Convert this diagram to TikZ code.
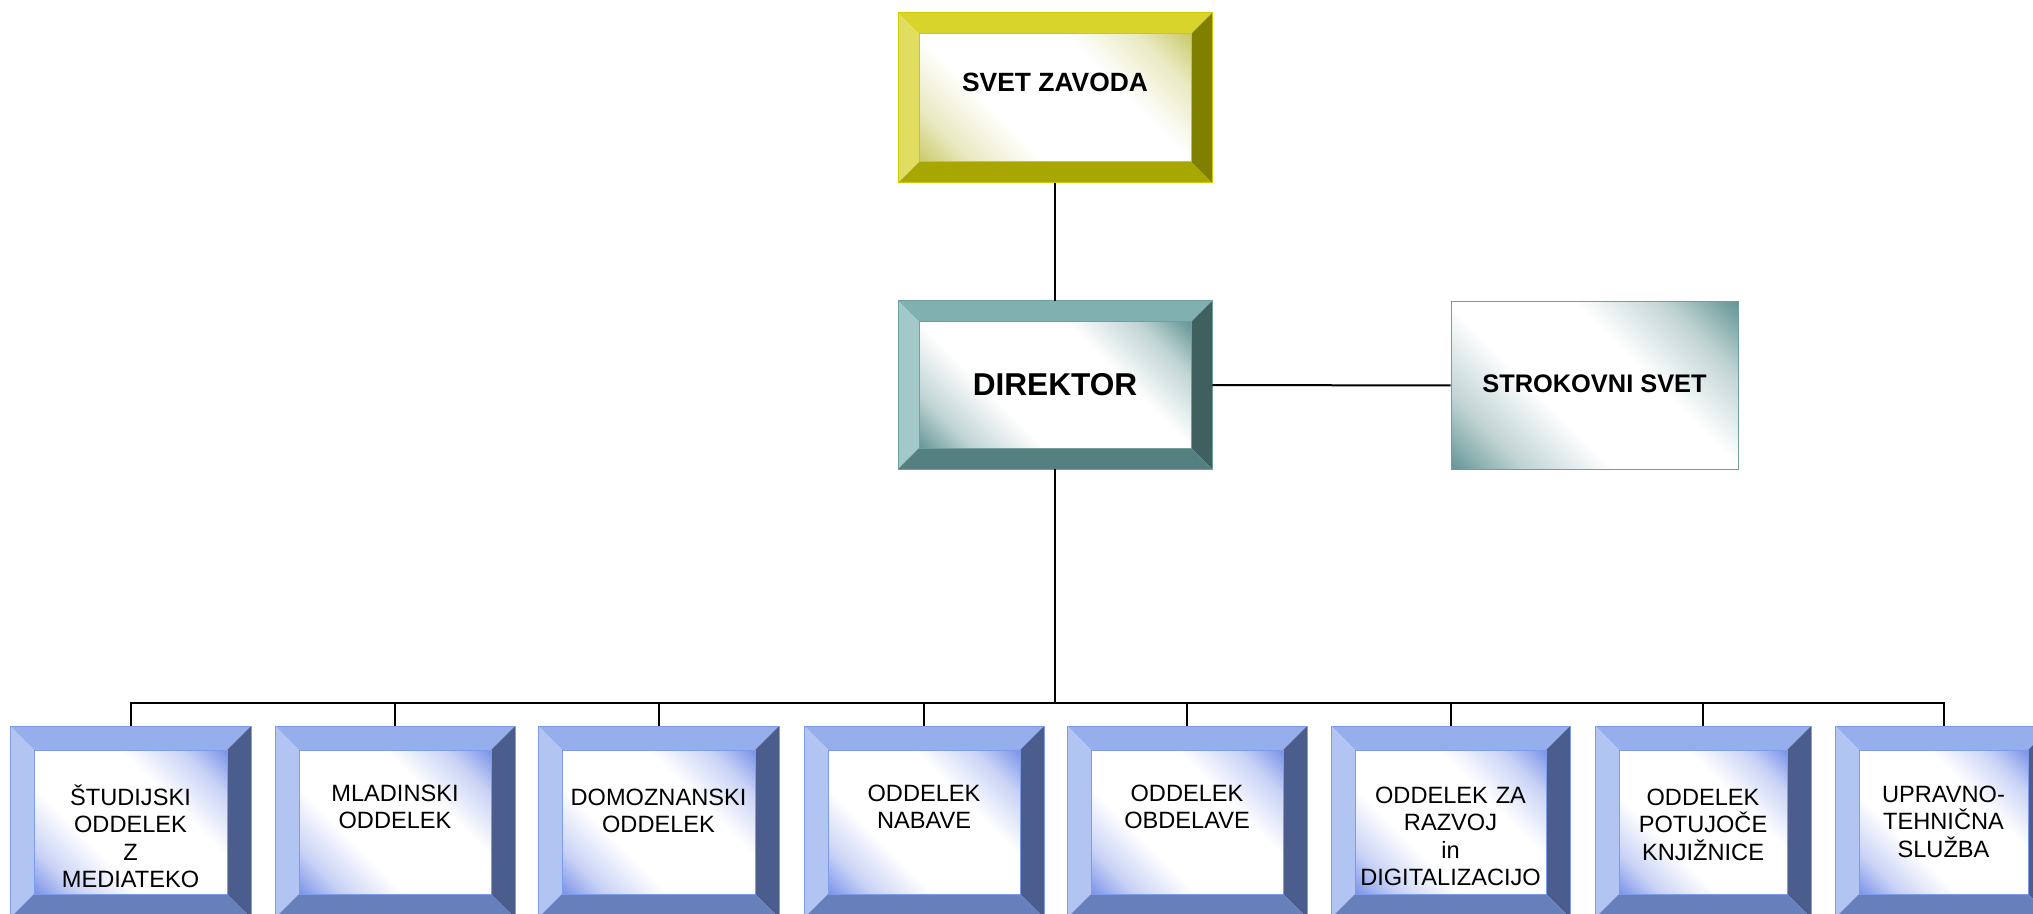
\documentclass[tikz,border=0pt]{standalone}
\usepackage{fontspec}
\setmainfont{Liberation Sans}
\usetikzlibrary{fit}

% yellow set
\definecolor{ytop}{RGB}{216,212,44}
\definecolor{yleft}{RGB}{224,221,96}
\definecolor{yright}{RGB}{128,128,0}
\definecolor{ybot}{RGB}{168,166,0}
\definecolor{yline}{RGB}{204,204,0}
\definecolor{ycorner}{RGB}{200,200,100}
\colorlet{ymid}{ycorner!40!white}
% teal set
\definecolor{ttop}{RGB}{128,176,176}
\definecolor{tleft}{RGB}{163,200,200}
\definecolor{tright}{RGB}{64,96,96}
\definecolor{tbot}{RGB}{84,128,128}
\definecolor{tline}{RGB}{110,160,160}
\definecolor{tcorner}{RGB}{96,146,146}
\colorlet{tmid}{tcorner!40!white}
% blue set
\definecolor{btop}{RGB}{150,174,235}
\definecolor{bleft}{RGB}{178,197,242}
\definecolor{bright}{RGB}{75,93,140}
\definecolor{bbot}{RGB}{102,128,188}
\definecolor{bline}{RGB}{125,155,232}
\definecolor{bcorner}{RGB}{118,143,232}
\colorlet{bmid}{bcorner!40!white}

\pgfdeclarehorizontalshading{ydiag}{100bp}{color(0bp)=(ycorner); color(14bp)=(ycorner); color(24bp)=(ymid); color(37bp)=(white); color(63bp)=(white); color(76bp)=(ymid); color(86bp)=(ycorner); color(100bp)=(ycorner)}
\pgfdeclarehorizontalshading{tdiag}{100bp}{color(0bp)=(tcorner); color(14bp)=(tcorner); color(24bp)=(tmid); color(37bp)=(white); color(63bp)=(white); color(76bp)=(tmid); color(86bp)=(tcorner); color(100bp)=(tcorner)}
\pgfdeclarehorizontalshading{sdiag}{100bp}{color(0bp)=(tcorner); color(14bp)=(tcorner); color(26bp)=(tmid); color(40bp)=(white); color(60bp)=(white); color(74bp)=(tmid); color(86bp)=(tcorner); color(100bp)=(tcorner)}
\pgfdeclarehorizontalshading{bdiag}{100bp}{color(0bp)=(bcorner); color(14bp)=(bcorner); color(24bp)=(bmid); color(37bp)=(white); color(63bp)=(white); color(76bp)=(bmid); color(86bp)=(bcorner); color(100bp)=(bcorner)}

% #1 name, #2 x1, #3 y1, #4 x2, #5 y2, #6 bevel, #7 colour prefix
\newcommand{\bevbox}[7]{%
  \fill[#7top] (#2,#3) -- (#4,#3) -- ({#4-#6},{#3+#6}) -- ({#2+#6},{#3+#6}) -- cycle;
  \fill[#7left] (#2,#3) -- ({#2+#6},{#3+#6}) -- ({#2+#6},{#5-#6}) -- (#2,#5) -- cycle;
  \fill[#7right] (#4,#3) -- (#4,#5) -- ({#4-#6},{#5-#6}) -- ({#4-#6},{#3+#6}) -- cycle;
  \fill[#7bot] (#2,#5) -- (#4,#5) -- ({#4-#6},{#5-#6}) -- ({#2+#6},{#5-#6}) -- cycle;
  \shade[shading=#7diag, shading angle=45] ({#2+#6},{#3+#6}) rectangle ({#4-#6},{#5-#6});
  \draw[#7line, line width=0.5pt] ({#2+#6},{#3+#6}) rectangle ({#4-#6},{#5-#6});
  \draw[#7line, line width=0.5pt] (#2,#3) rectangle (#4,#5);
  \node[fit={(#2,#3)(#4,#5)}, inner sep=0pt] (#1) {};
}

\tikzset{
  conn/.style={line width=1pt, black},
  toptxt/.style={inner sep=0pt, font=\bfseries\fontsize{13.2pt}{15pt}\selectfont},
  bottxt/.style={inner sep=0pt, anchor=base, align=center, text width=100pt,
    font=\fontsize{11.8pt}{13.8pt}\selectfont},
}

\begin{document}
\begin{tikzpicture}[x=0.5pt, y=-0.5pt]
\useasboundingbox (0,0) rectangle (2033,914);
\clip (0,0) rectangle (2033,914);

% top boxes
\bevbox{sz}{898}{13}{1212}{183}{21}{y}
\bevbox{dir}{898}{301}{1212}{469}{21}{t}
\shade[shading=sdiag, shading angle=45] (1451,302) rectangle (1738,469);
\draw[tline, line width=0.5pt] (1451,302) rectangle (1738,469);
\node[fit={(1451,302)(1738,469)}, inner sep=0pt] (ss) {};

\node[toptxt] (sz-t) at (1055,82) {SVET ZAVODA};
\node[toptxt, font=\bfseries\fontsize{15.8pt}{18pt}\selectfont] (dir-t) at (1055,385) {DIREKTOR};
\node[toptxt, font=\bfseries\fontsize{12.7pt}{15pt}\selectfont] (ss-t) at (1594.5,384) {STROKOVNI SVET};

% bottom boxes
\bevbox{b1}{10}{726}{251}{918}{24}{b}
\bevbox{b2}{275}{726}{515}{918}{24}{b}
\bevbox{b3}{538}{726}{779}{918}{24}{b}
\bevbox{b4}{804}{726}{1044}{918}{24}{b}
\bevbox{b5}{1067}{726}{1307}{918}{24}{b}
\bevbox{b6}{1331}{726}{1570}{918}{24}{b}
\bevbox{b7}{1595}{726}{1811}{918}{24}{b}
\bevbox{b8}{1835}{726}{2052}{918}{24}{b}

\node[bottxt] (b1-t) at (130.5,805) {ŠTUDIJSKI\\ODDELEK\\Z\\MEDIATEKO};
\node[bottxt] (b2-t) at (395,801) {MLADINSKI\\ODDELEK};
\node[bottxt] (b3-t) at (658.5,805) {DOMOZNANSKI\\ODDELEK};
\node[bottxt] (b4-t) at (924,801) {ODDELEK\\NABAVE};
\node[bottxt] (b5-t) at (1187,801) {ODDELEK\\OBDELAVE};
\node[bottxt] (b6-t) at (1450.5,803) {ODDELEK ZA\\RAZVOJ\\in\\DIGITALIZACIJO};
\node[bottxt] (b7-t) at (1703,805) {ODDELEK\\POTUJOČE\\KNJIŽNICE};
\node[bottxt] (b8-t) at (1943.5,802) {UPRAVNO-\\TEHNIČNA\\SLUŽBA};

% connectors
\coordinate (bus) at (1055,703);
\draw[conn] (sz.south) -- (dir.north);
\draw[conn] (dir.east) -- (ss.west);
\draw[conn] (dir.south) -- (bus);
\draw[conn] (b1.north) -- (b1.north |- bus) -- (b8.north |- bus) -- (b8.north);
\foreach \k in {2,...,7} {\draw[conn] (b\k.north) -- (b\k.north |- bus);}
\end{tikzpicture}
\end{document}
